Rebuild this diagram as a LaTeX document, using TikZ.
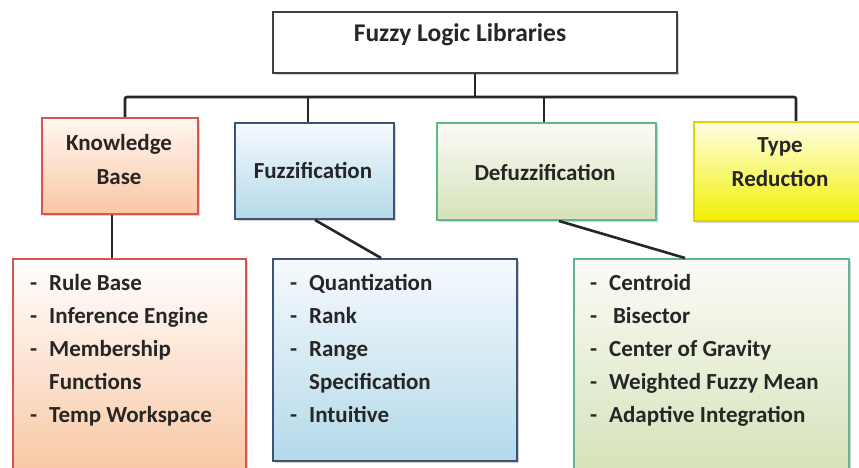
\documentclass[tikz,border=0pt]{standalone}
\usepackage{fontspec}
\setmainfont{Carlito}
\usetikzlibrary{shadows,calc}
\definecolor{txt}{HTML}{262626}
\definecolor{kbB}{HTML}{D9534F}
\definecolor{kbT}{HTML}{FFF6F0}
\definecolor{kbM}{HTML}{F9C7A4}
\definecolor{fzB}{HTML}{3C5478}
\definecolor{fzT}{HTML}{F6FAFD}
\definecolor{fzM}{HTML}{B3D9EA}
\definecolor{dfB}{HTML}{5DB88C}
\definecolor{dfT}{HTML}{FBFBF6}
\definecolor{dfM}{HTML}{D5E2B9}
\definecolor{tyB}{HTML}{E2D400}
\definecolor{tyT}{HTML}{FFFEE6}
\definecolor{tyM}{HTML}{F2F000}
\tikzset{
  box/.style={rectangle, line width=2pt, anchor=north west, inner sep=0pt,
    drop shadow={opacity=0.35, shadow xshift=2pt, shadow yshift=-2pt}},
  lbl/.style={text=txt, font=\fontsize{23}{34}\selectfont\bfseries, align=center},
  lst/.style={text=txt, font=\fontsize{23}{33}\selectfont\bfseries, align=left, anchor=north west, inner sep=0pt},
  conn/.style={line width=2.6pt, black!85},
}
\newcommand{\itm}[1]{\makebox[19pt][l]{-}#1}
\newcommand{\cnt}[1]{\makebox[19pt][l]{}#1}
\begin{document}
\begin{tikzpicture}[x=1pt,y=-1pt]
\useasboundingbox (0,0) rectangle (859,468);
% top
\node[box, draw=black!75, fill=white, minimum width=404pt, minimum height=61pt] (top) at (272,11) {};
\node[lbl, font=\fontsize{25.5}{30}\selectfont\bfseries] (toptxt) at (460,35) {Fuzzy Logic Libraries};
% second level
\node[box, draw=kbB, top color=kbT, bottom color=kbM, minimum width=156pt, minimum height=96pt] (kb) at (41,117) {};
\node[lbl] (kbtxt) at (119,160) {Knowledge\\Base};
\node[box, draw=fzB, top color=fzT, bottom color=fzM, minimum width=159pt, minimum height=96pt] (fz) at (234,122) {};
\node[lbl] (fztxt) at (313,170) {Fuzzification};
\node[box, draw=dfB, top color=dfT, bottom color=dfM, minimum width=219pt, minimum height=97pt] (df) at (436,122) {};
\node[lbl] (dftxt) at (545,172) {Defuzzification};
\node[box, draw=tyB, top color=tyT, bottom color=tyM, minimum width=174pt, minimum height=99pt] (ty) at (693,121) {};
\node[lbl] (tytxt) at (780,162.5) {Type\\Reduction};
% third level
\node[box, draw=kbB, top color=white, bottom color=kbM, minimum width=233pt, minimum height=215pt] (kbl) at (12,258) {};
\node[lst] (kbltxt) at (30,274) {\itm{Rule Base}\\\itm{Inference Engine}\\\itm{Membership}\\\cnt{Functions}\\\itm{Temp Workspace}};
\node[box, draw=fzB, top color=fzT, bottom color=fzM, minimum width=244pt, minimum height=202pt] (fzl) at (272,258) {};
\node[lst] (fzltxt) at (290,274) {\itm{Quantization}\\\itm{Rank}\\\itm{Range}\\\cnt{Specification}\\\itm{Intuitive}};
\node[box, draw=dfB, top color=dfT, bottom color=dfM, minimum width=275pt, minimum height=215pt] (dfl) at (573,258) {};
\node[lst] (dfltxt) at (590,274) {\itm{Centroid}\\\itm{\,Bisector}\\\itm{Center of Gravity}\\\itm{Weighted Fuzzy Mean}\\\itm{Adaptive Integration}};
% connectors
\coordinate (busL) at (125,97);
\coordinate (busR) at (796,97);
\coordinate (fzd) at (308,97);
\coordinate (dfd) at (544,97);
\draw[conn, rounded corners=2pt] (busL |- kb.north) -- (busL) -- (busR) -- (busR |- ty.north);
\draw[conn] (top.south) -- (top.south |- busL);
\draw[conn] (fzd) -- (fzd |- fz.north);
\draw[conn] (dfd) -- (dfd |- df.north);
\coordinate (kbx) at (112,0);
\draw[conn] (kbx |- kb.south) -- (kbx |- kbl.north);
\coordinate (fza) at (315,0);
\coordinate (fzb) at (381,0);
\draw[conn] (fza |- fz.south) -- (fzb |- fzl.north);
\coordinate (dfa) at (559,0);
\coordinate (dfb) at (685,0);
\draw[conn] (dfa |- df.south) -- (dfb |- dfl.north);
\end{tikzpicture}
\end{document}
